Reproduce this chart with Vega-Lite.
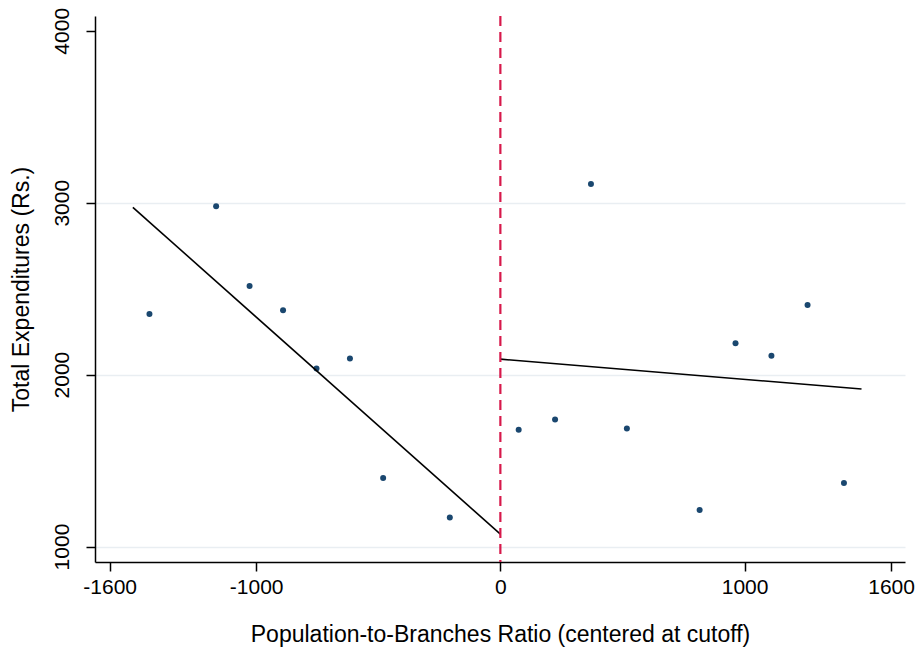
{
  "$schema": "https://vega.github.io/schema/vega-lite/v6.json",
  "width": 810,
  "height": 546,
  "autosize": {"type": "none"},
  "padding": {"left": 95, "top": 16, "right": 16, "bottom": 90},
  "background": "white",
  "config": {
    "view": {"stroke": null},
    "font": "Liberation Sans",
    "axis": {
      "domainColor": "black",
      "domainWidth": 1.5,
      "tickColor": "black",
      "tickWidth": 1.5,
      "tickSize": 9,
      "labelFont": "Liberation Sans",
      "labelFontSize": 21,
      "labelColor": "black",
      "labelExpr": "'' + datum.value",
      "titleFont": "Liberation Sans",
      "titleFontSize": 23,
      "titleFontWeight": "normal",
      "titleColor": "black"
    }
  },
  "datasets": {
    "points": [
      {"ratio": -1437, "exp": 2352},
      {"ratio": -1164, "exp": 2979},
      {"ratio": -1027, "exp": 2515},
      {"ratio": -890, "exp": 2374},
      {"ratio": -753, "exp": 2036},
      {"ratio": -616, "exp": 2094},
      {"ratio": -480, "exp": 1399},
      {"ratio": -207, "exp": 1169},
      {"ratio": 75, "exp": 1679},
      {"ratio": 224, "exp": 1739},
      {"ratio": 371, "exp": 3109},
      {"ratio": 518, "exp": 1687},
      {"ratio": 816, "exp": 1213},
      {"ratio": 963, "exp": 2183},
      {"ratio": 1110, "exp": 2109},
      {"ratio": 1258, "exp": 2405},
      {"ratio": 1407, "exp": 1370}
    ],
    "fits": [
      {"ratio": -1505, "exp": 2973, "side": "left"},
      {"ratio": 0, "exp": 1072, "side": "left"},
      {"ratio": 0, "exp": 2090, "side": "right"},
      {"ratio": 1479, "exp": 1916, "side": "right"}
    ],
    "cutoff": [{"ratio": 0}]
  },
  "layer": [
    {
      "data": {"name": "points"},
      "mark": {"type": "point", "filled": true, "size": 36, "opacity": 1, "color": "#1a476f"},
      "encoding": {
        "x": {
          "field": "ratio",
          "type": "quantitative",
          "scale": {"domain": [-1660, 1657], "nice": false, "zero": false},
          "axis": {
            "values": [-1600, -1000, 0, 1000, 1600],
            "grid": false,
            "labelPadding": 5,
            "labelBaseline": "top",
            "title": "Population-to-Branches Ratio (centered at cutoff)",
            "titlePadding": 26
          }
        },
        "y": {
          "field": "exp",
          "type": "quantitative",
          "scale": {"domain": [910, 4086], "nice": false, "zero": false},
          "axis": {
            "values": [1000, 2000, 3000, 4000],
            "grid": true,
            "gridColor": {"condition": {"test": "datum.value == 4000", "value": "transparent"}, "value": "#e9eef2"},
            "gridWidth": 1.5,
            "labelAngle": -90,
            "labelAlign": "center",
            "labelBaseline": "alphabetic",
            "labelPadding": 18,
            "title": "Total Expenditures (Rs.)",
            "titlePadding": 18
          }
        }
      }
    },
    {
      "data": {"name": "fits"},
      "mark": {"type": "line", "color": "black", "strokeWidth": 1.6},
      "encoding": {
        "x": {"field": "ratio", "type": "quantitative"},
        "y": {"field": "exp", "type": "quantitative"},
        "detail": {"field": "side", "type": "nominal"}
      }
    },
    {
      "data": {"name": "cutoff"},
      "mark": {"type": "rule", "color": "#d7194b", "strokeWidth": 2.2, "strokeDash": [10, 6]},
      "encoding": {
        "x": {"field": "ratio", "type": "quantitative"}
      }
    }
  ]
}
